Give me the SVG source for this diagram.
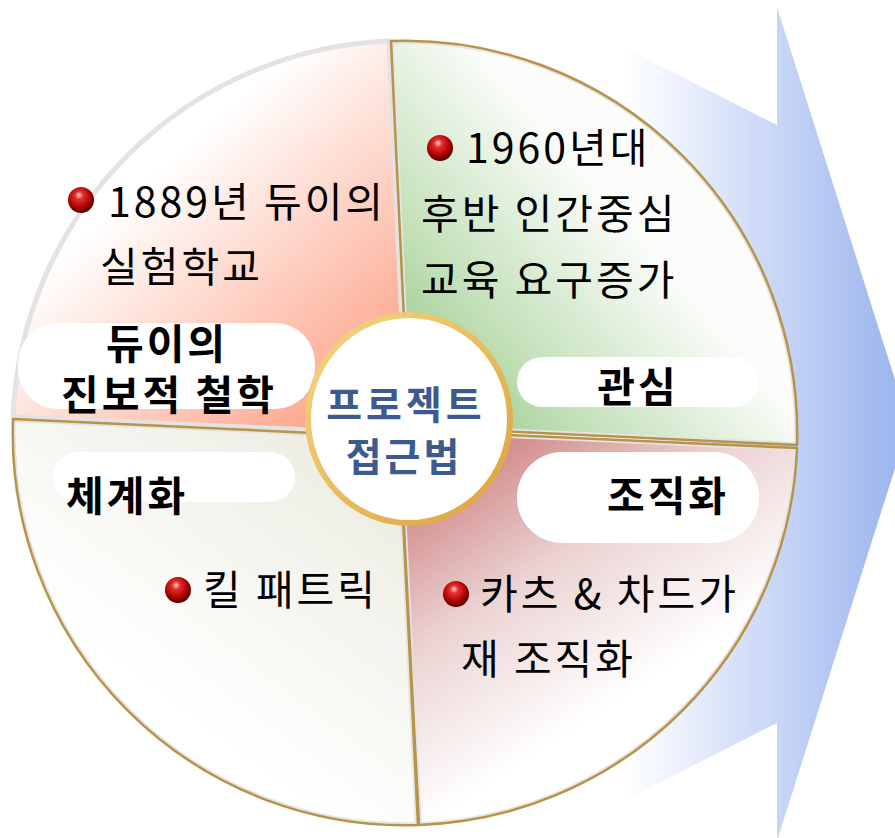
<svg xmlns="http://www.w3.org/2000/svg" width="895" height="838" viewBox="0 0 895 838">
<style>
.body{font-family:"Noto Sans CJK KR","Noto Sans",sans-serif;font-size:41px;letter-spacing:3px;fill:#000;}
.lbl{font-family:"Noto Sans CJK KR","Noto Sans",sans-serif;font-size:41px;letter-spacing:3px;font-weight:bold;fill:#000;}
.ctr{font-family:"Noto Sans CJK KR","Noto Sans",sans-serif;font-size:39px;font-weight:bold;fill:#3d5a8e;}
.box{fill:#fff;}
.gold{fill:none;stroke:#b8934a;stroke-width:2.5;stroke-linejoin:round;}
.inner{fill:none;stroke:#e4e4e4;stroke-width:6;}
</style>
<defs>
<linearGradient id="gArrow" gradientUnits="userSpaceOnUse" x1="625" y1="0" x2="909" y2="0">
<stop offset="0" stop-color="#ffffff"/>
<stop offset="1" stop-color="#98b2ee"/>
</linearGradient>
<linearGradient id="gTL" gradientUnits="userSpaceOnUse" x1="170" y1="160" x2="400" y2="420">
<stop offset="0" stop-color="#ffffff"/>
<stop offset="1" stop-color="#fc987a"/>
</linearGradient>
<linearGradient id="gTR" gradientUnits="userSpaceOnUse" x1="400" y1="440" x2="640" y2="230">
<stop offset="0" stop-color="#84c276"/>
<stop offset="0.45" stop-color="#c2e0b8"/>
<stop offset="1" stop-color="#fcfdfb"/>
</linearGradient>
<linearGradient id="gBR" gradientUnits="userSpaceOnUse" x1="405" y1="435" x2="590" y2="720">
<stop offset="0" stop-color="#c56a6a"/>
<stop offset="0.55" stop-color="#ecd3d3"/>
<stop offset="1" stop-color="#ffffff"/>
</linearGradient>
<linearGradient id="gBL" gradientUnits="userSpaceOnUse" x1="400" y1="440" x2="190" y2="720">
<stop offset="0" stop-color="#ebeadf"/>
<stop offset="1" stop-color="#ffffff"/>
</linearGradient>
<radialGradient id="gBall" cx="0.45" cy="0.4" r="0.6" fx="0.42" fy="0.3">
<stop offset="0" stop-color="#ffe0e0"/>
<stop offset="0.25" stop-color="#e83030"/>
<stop offset="0.7" stop-color="#b00000"/>
<stop offset="1" stop-color="#4a0000"/>
</radialGradient>
<linearGradient id="gRing" x1="0" y1="0" x2="1" y2="1">
<stop offset="0" stop-color="#f6d585"/>
<stop offset="1" stop-color="#dca23c"/>
</linearGradient>
<path id="pTL" d="M407,434 L13,417 A392,392 0 0 1 389,41 Z"/>
<path id="pTR" d="M409,427 L391,41 A392,392 0 0 1 797,445 Z"/>
<path id="pBR" d="M399,430 L797,448 A392,392 0 0 1 419,825 Z"/>
<path id="pBL" d="M399,437 L418,825 A392,392 0 0 1 13,419 Z"/>
<clipPath id="cTR"><use href="#pTR"/></clipPath>
<clipPath id="cBR"><use href="#pBR"/></clipPath>
<clipPath id="cBL"><use href="#pBL"/></clipPath>
<circle id="ball" r="13" fill="url(#gBall)"/>
</defs>

<g id="arrow">
<path d="M625,48 L777,125 L777,7 L909,424 L777,841 L777,723 L625,800 Z" fill="url(#gArrow)"/>
</g>

<g id="q-tl">
<use href="#pTL" fill="url(#gTL)" stroke="#e3e3e3" stroke-width="5"/>
</g>
<g id="q-tr">
<use href="#pTR" fill="url(#gTR)"/>
<use href="#pTR" class="inner" clip-path="url(#cTR)"/>
<use href="#pTR" class="gold"/>
</g>
<g id="q-br">
<use href="#pBR" fill="url(#gBR)"/>
<use href="#pBR" class="inner" clip-path="url(#cBR)"/>
<use href="#pBR" class="gold"/>
</g>
<g id="q-bl">
<use href="#pBL" fill="url(#gBL)"/>
<use href="#pBL" class="inner" clip-path="url(#cBL)"/>
<use href="#pBL" class="gold"/>
</g>

<g id="n-dewey-school">
<use href="#ball" x="81" y="200"/>
<text class="body" x="108" y="217">1889년 듀이의</text>
<text class="body" x="100" y="282">실험학교</text>
</g>
<g id="n-1960s">
<use href="#ball" x="440" y="148"/>
<text class="body" x="466" y="163">1960년대</text>
<text class="body" x="421" y="229">후반 인간중심</text>
<text class="body" x="421" y="295">교육 요구증가</text>
</g>
<g id="n-kilpatrick">
<use href="#ball" x="178" y="590"/>
<text class="body" x="203" y="605">킬 패트릭</text>
</g>
<g id="n-katz">
<use href="#ball" x="456" y="594"/>
<text class="body" x="480" y="609">카츠 &amp; 차드가</text>
<text class="body" x="461" y="674">재 조직화</text>
</g>

<g id="n-philosophy">
<rect class="box" x="18" y="323" width="297" height="86" rx="40"/>
<text class="lbl" x="167" y="359" text-anchor="middle">듀이의</text>
<text class="lbl" x="169" y="410" text-anchor="middle">진보적 철학</text>
</g>
<g id="n-interest">
<rect class="box" x="517" y="357" width="242" height="50" rx="25"/>
<text class="lbl" x="638" y="402" text-anchor="middle">관심</text>
</g>
<g id="n-organize">
<rect class="box" x="517" y="452" width="242" height="91" rx="45"/>
<text class="lbl" x="668" y="511" text-anchor="middle">조직화</text>
</g>
<g id="n-system">
<rect class="box" x="53" y="452" width="242" height="50" rx="25"/>
<text class="lbl" x="66" y="511">체계화</text>
</g>

<g id="n-center">
<ellipse cx="409" cy="419" rx="101" ry="104" fill="#fff" stroke="url(#gRing)" stroke-width="6"/>
<text class="ctr" x="406" y="419" text-anchor="middle" letter-spacing="4">프로젝트</text>
<text class="ctr" x="404" y="471" text-anchor="middle" letter-spacing="3">접근법</text>
</g>

<g id="connectors"/>
</svg>
